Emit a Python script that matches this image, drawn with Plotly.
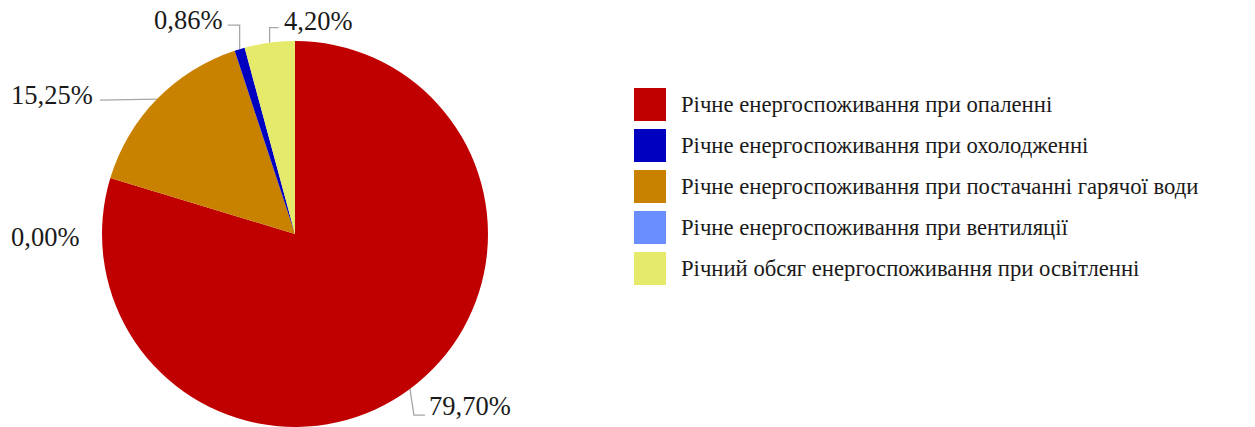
import math
import plotly.graph_objects as go

# ---- data (legend order) ----
categories = [
    "Річне енергоспоживання при опаленні",
    "Річне енергоспоживання при охолодженні",
    "Річне енергоспоживання при постачанні гарячої води",
    "Річне енергоспоживання при вентиляції",
    "Річний обсяг енергоспоживання при освітленні",
]
shares = [79.70, 0.86, 15.25, 0.00, 4.20]
colors = ["#C00000", "#0000C0", "#C98200", "#6B8EFF", "#E6EA6B"]
# clockwise slice order (indices into the lists above)
slice_order = [0, 3, 2, 1, 4]

# ---- layout styles ----
W, H = 1255, 427
cx, cy, R = 295, 234, 193
FONT = "Liberation Serif"
TXT = "#1a1a1a"

# per-category label style: (dx, dy) of text anchor from slice edge, anchor, leader polyline offsets
label_style = {
    0: ((18, 17), "left", [(0, 0), (4, 26), (15, 26)]),
    1: ((-17, -29), "right", [(0, 0), (0, -24), (-12, -24)]),
    2: ((-63, -4), "right", [(0, 0), (-57, 1)]),
    3: ((-30, 59), "right", None),
    4: ((13, -22), "left", [(0, 0), (0, -15), (9, -15)]),
}

def px(x):
    return x / W

def py(y):
    return 1 - y / H

fig = go.Figure()
fig.add_trace(go.Pie(
    labels=[categories[i] for i in slice_order],
    values=[shares[i] for i in slice_order],
    marker=dict(colors=[colors[i] for i in slice_order], line=dict(width=0)),
    sort=False, direction="clockwise", rotation=0,
    textinfo="none", hoverinfo="label+percent", showlegend=False,
    domain=dict(x=[px(cx - R), px(cx + R)], y=[max(0, py(cy + R)), py(cy - R)]),
))

total = sum(shares)
annotations = []
shapes = []
start = 0.0
for i in slice_order:
    frac = shares[i] / total
    mid = (start + frac / 2) * 2 * math.pi
    start += frac
    ex = cx + R * math.sin(mid)
    ey = cy - R * math.cos(mid)
    if i == 3:  # zero slice: label sits at its boundary
        ex = cx + R * math.sin(start * 2 * math.pi)
        ey = cy - R * math.cos(start * 2 * math.pi)
    (dx, dy), anchor, line = label_style[i]
    annotations.append(dict(
        x=px(ex + dx), y=py(ey + dy), xref="paper", yref="paper",
        text=f"{shares[i]:.2f}".replace(".", ",") + "%",
        showarrow=False, xanchor=anchor, yanchor="middle", borderpad=0,
        font=dict(family=FONT, size=26.5, color=TXT),
    ))
    if line:
        path = " ".join(
            ("M" if k == 0 else "L") + f"{px(ex + ox):.5f},{py(ey + oy):.5f}"
            for k, (ox, oy) in enumerate(line)
        )
        shapes.append(dict(type="path", xref="paper", yref="paper", path=path,
                           line=dict(color="#A6A6A6", width=1.3)))

# manual legend
leg_x0, leg_sq, leg_txt_x = 634, 32, 679
leg_y0, leg_pitch = 104.5, 41
for k, name in enumerate(categories):
    yc = leg_y0 + k * leg_pitch
    shapes.append(dict(type="rect", xref="paper", yref="paper",
                       x0=px(leg_x0), x1=px(leg_x0 + leg_sq),
                       y0=py(yc + 16.5), y1=py(yc - 16.5),
                       fillcolor=colors[k], line=dict(width=0)))
    annotations.append(dict(
        x=px(leg_txt_x), y=py(yc), xref="paper", yref="paper", text=name,
        showarrow=False, xanchor="left", yanchor="middle",
        font=dict(family=FONT, size=22.7, color=TXT),
    ))

fig.update_layout(
    width=W, height=H, margin=dict(l=0, r=0, t=0, b=0),
    paper_bgcolor="white", plot_bgcolor="white",
    annotations=annotations, shapes=shapes,
)
fig.write_html(
    "out.html",
    config={"displayModeBar": False},
    post_script="document.body.style.margin='0';document.body.style.overflow='hidden';",
)
